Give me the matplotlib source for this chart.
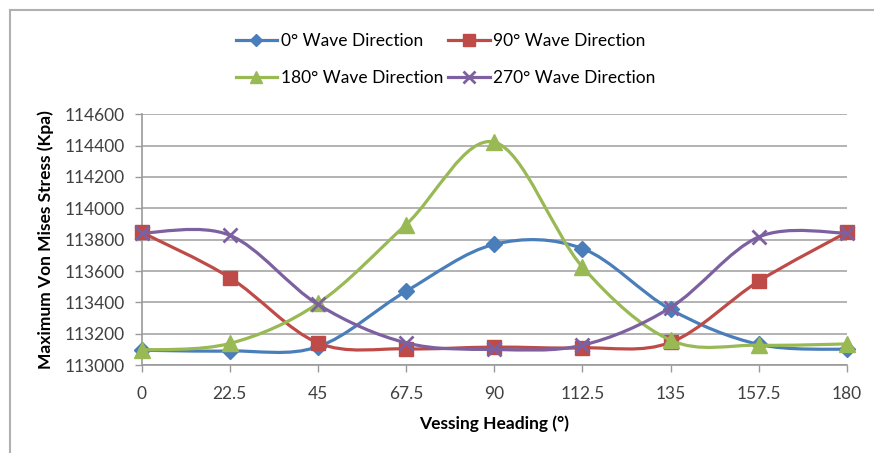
import numpy as np
import matplotlib
matplotlib.use('Agg')
import matplotlib.pyplot as plt
from matplotlib.path import Path
from matplotlib.patches import PathPatch
from matplotlib.lines import Line2D

plt.rcParams['font.family'] = ['Lato', 'DejaVu Sans']

heading = [0, 22.5, 45, 67.5, 90, 112.5, 135, 157.5, 180]
wave_0 = [113095, 113090, 113117, 113471, 113770, 113743, 113355, 113132, 113100]
wave_90 = [113847, 113558, 113142, 113104, 113115, 113110, 113145, 113535, 113847]
wave_180 = [113096, 113138, 113393, 113896, 114422, 113626, 113159, 113127, 113135]
wave_270 = [113842, 113828, 113387, 113142, 113100, 113127, 113367, 113817, 113842]
labels = ['0° Wave Direction', '90° Wave Direction', '180° Wave Direction', '270° Wave Direction']
yticks = list(range(113000, 114601, 200))

colors = ['#4A7EBB', '#BE4B48', '#98B954', '#7D60A0']
markers = ['D', 's', '^', 'x']
msizes = [8, 10.5, 11, 10]


def smooth_path(x, y):
	# excel-like smoothed line: catmull-rom as cubic bezier segments
	p = np.column_stack([x, y]).astype(float)
	n = len(p)
	verts = [p[0]]
	codes = [Path.MOVETO]
	for i in range(n - 1):
		p0 = p[i - 1] if i > 0 else p[i]
		p3 = p[i + 2] if i + 2 < n else p[i + 1]
		c1 = p[i] + (p[i + 1] - p0) / 6
		c2 = p[i + 1] - (p3 - p[i]) / 6
		verts += [c1, c2, p[i + 1]]
		codes += [Path.CURVE4] * 3
	return Path(verts, codes)


fig = plt.figure(figsize=(8.74, 4.53), dpi=100)
ax = fig.add_axes([0.162, 0.194, 0.807, 0.554])

series = [wave_0, wave_90, wave_180, wave_270]
for i in range(4):
	patch = PathPatch(smooth_path(heading, series[i]), facecolor='none',
		edgecolor=colors[i], lw=2.3, zorder=3 + i)
	ax.add_patch(patch)
	ax.plot(heading, series[i], ls='none', marker=markers[i], ms=msizes[i],
		color=colors[i], mec=colors[i], mew=2 if markers[i] == 'x' else 1, zorder=3 + i,
		clip_on=False)

ax.set_xlim(0, 180)
ax.set_ylim(113000, 114600)
ax.set_xticks(heading)
ax.set_xticklabels(['0', '22.5', '45', '67.5', '90', '112.5', '135', '157.5', '180'])
ax.set_yticks(yticks)
ax.set_yticklabels([str(v) for v in yticks])
ax.tick_params(labelsize=12.5, colors='#404040', length=5, width=1, color='#9a9a9a')
ax.tick_params(axis='x', pad=10)
ax.tick_params(axis='y', pad=7)
ax.grid(axis='y', color='#a6a6a6', lw=1.2)
ax.set_axisbelow(True)
for s in ['top', 'right']:
	ax.spines[s].set_visible(False)
for s in ['left', 'bottom']:
	ax.spines[s].set_color('#9a9a9a')
	ax.spines[s].set_linewidth(1.2)

ax.set_xlabel('Vessing Heading (°)', fontsize=12.5, fontweight='bold', labelpad=10)
ax.set_ylabel('Maximum Von Mises Stress (Kpa)', fontsize=12.5, fontweight='bold', labelpad=8)

handles = [Line2D([], [], color=colors[i], lw=2.3, marker=markers[i], ms=msizes[i] * 0.8,
	mew=2 if markers[i] == 'x' else 1) for i in range(4)]
order = [0, 2, 1, 3]
fig.legend([handles[i] for i in order], [labels[i] for i in order], ncol=2,
	loc='center', bbox_to_anchor=(0.51, 0.868), frameon=False, fontsize=12.5,
	handlelength=2.4, handletextpad=0.2, columnspacing=0.3, labelspacing=1.2)

# chart border
fig.add_artist(Line2D([0.011, 1.0], [0.978, 0.978], color='#b0b0b0', lw=1.5))
fig.add_artist(Line2D([0.011, 0.011], [0.0, 0.978], color='#b0b0b0', lw=1.5))

fig.savefig('out.png', dpi=100)
